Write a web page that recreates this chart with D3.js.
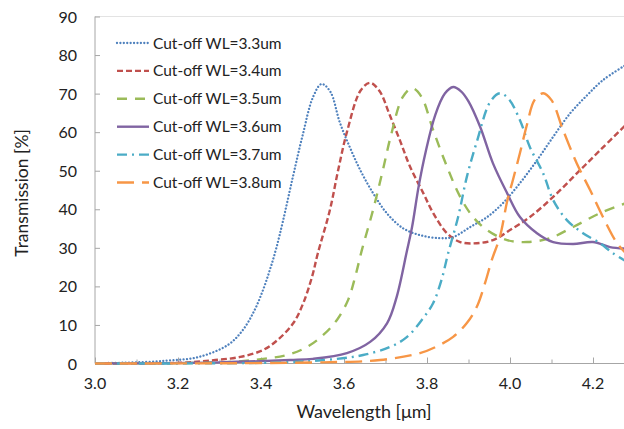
<!DOCTYPE html>
<html>
<head>
<meta charset="utf-8">
<script src="https://cdn.jsdelivr.net/npm/d3@7"></script>
<style>
  body { margin: 0; background: #fff; }
  svg { display: block; font-family: Lato, "Open Sans", sans-serif; }
</style>
</head>
<body>
<div id="chart"></div>
<script>
// series data: wavelength [um] / transmission [%]
const wl33 = [3.00, 3.07, 3.17, 3.25, 3.32, 3.355, 3.383, 3.405, 3.422, 3.437, 3.453, 3.477, 3.501, 3.525, 3.546, 3.567, 3.59, 3.614, 3.639, 3.67, 3.703, 3.742, 3.783, 3.831, 3.863, 3.904, 3.945, 3.983, 4.024, 4.065, 4.104, 4.145, 4.186, 4.224, 4.28];
const t33  = [0.1, 0.2, 0.7, 1.7, 4.8, 8.5, 13.5, 19.1, 24.5, 30, 37, 48.5, 59.5, 69, 72.5, 70.5, 62.5, 56.1, 50.2, 44.2, 39, 35.1, 33.3, 32.5, 32.8, 35.4, 38, 41.6, 46.8, 52.7, 58.8, 64.9, 69.6, 73.5, 77.5];

const wl34 = [3.00, 3.21, 3.29, 3.35, 3.405, 3.44, 3.478, 3.502, 3.523, 3.537, 3.566, 3.586, 3.607, 3.64, 3.663, 3.686, 3.71, 3.735, 3.759, 3.791, 3.815, 3.848, 3.88, 3.92, 3.959, 4.0, 4.048, 4.104, 4.161, 4.217, 4.28];
const t34  = [0, 0.2, 0.9, 1.7, 3.5, 6.1, 10.5, 15.7, 22.5, 28.6, 39.8, 50.2, 60, 70.8, 72.8, 70.6, 64.5, 57.8, 51.1, 44.2, 39, 33.8, 31.5, 31.2, 32, 34.6, 38, 43.2, 49.3, 55.3, 62];

const wl35 = [3.00, 3.325, 3.405, 3.463, 3.511, 3.55, 3.583, 3.61, 3.627, 3.643, 3.67, 3.692, 3.714, 3.741, 3.764, 3.786, 3.815, 3.848, 3.88, 3.911, 3.945, 3.993, 4.041, 4.096, 4.152, 4.217, 4.28];
const t35  = [0, 0.4, 1.2, 2.2, 4.3, 7.4, 11.3, 16.5, 22.5, 29.4, 39.8, 49.4, 59.5, 69, 71.4, 69.3, 60.5, 51.1, 43.2, 38, 34.6, 32, 31.5, 32.5, 35.4, 39, 41.6];

const wl36 = [3.00, 3.30, 3.47, 3.525, 3.607, 3.663, 3.704, 3.727, 3.752, 3.764, 3.78, 3.797, 3.82, 3.843, 3.863, 3.882, 3.9, 3.928, 3.959, 3.993, 4.024, 4.065, 4.104, 4.152, 4.2, 4.241, 4.28];
const t36  = [0, 0.3, 0.9, 1.2, 2.7, 5.6, 10.5, 17.3, 29.4, 35.4, 46, 55, 64.5, 70, 71.7, 70.6, 68, 61.4, 51.9, 44.2, 38, 33.8, 31.5, 31, 31.5, 30.2, 29.8];

const wl37 = [3.00, 3.45, 3.583, 3.646, 3.711, 3.752, 3.791, 3.815, 3.835, 3.851, 3.875, 3.896, 3.92, 3.953, 3.976, 3.997, 4.024, 4.048, 4.08, 4.104, 4.137, 4.176, 4.217, 4.248, 4.28];
const t37  = [0, 0.3, 1.2, 2.2, 4.3, 6.9, 11.8, 15.7, 21.7, 28.6, 38, 48.4, 57.5, 68, 70.1, 68.6, 63.1, 56.1, 49.3, 42.4, 37.2, 33.8, 31.2, 28.6, 26.5];

const wl38 = [3.00, 3.55, 3.687, 3.783, 3.823, 3.863, 3.896, 3.92, 3.94, 3.956, 3.976, 3.993, 4.007, 4.024, 4.041, 4.059, 4.08, 4.1, 4.128, 4.161, 4.193, 4.224, 4.258, 4.28];
const t38  = [0, 0.3, 0.9, 2.7, 4.4, 6.9, 10.5, 14.7, 20.9, 26.8, 33, 42, 47.6, 54.6, 62, 68.3, 70.1, 68.3, 60.5, 51.9, 45, 38, 31.2, 28.5];

const seriesNames = ["Cut-off WL=3.3um", "Cut-off WL=3.4um", "Cut-off WL=3.5um", "Cut-off WL=3.6um", "Cut-off WL=3.7um", "Cut-off WL=3.8um"];
const xTicks = [3.0, 3.2, 3.4, 3.6, 3.8, 4.0, 4.2];
const xMinorTicks = [3.1, 3.3, 3.5, 3.7, 3.9, 4.1, 4.3];
const yTicks = [0, 10, 20, 30, 40, 50, 60, 70, 80, 90];

const series = [
    { name: seriesNames[0], wl: wl33, t: t33, color: "#4f81bd", dash: "0.01,3.4", cap: "round", w: 2.3 },
    { name: seriesNames[1], wl: wl34, t: t34, color: "#c0504d", dash: "6,3", cap: "butt", w: 2.4 },
    { name: seriesNames[2], wl: wl35, t: t35, color: "#9bbb59", dash: "10,8", cap: "butt", w: 2.4 },
    { name: seriesNames[3], wl: wl36, t: t36, color: "#8064a2", dash: null, cap: "butt", w: 2.4 },
    { name: seriesNames[4], wl: wl37, t: t37, color: "#4bacc6", dash: "10,5,2,5", cap: "butt", w: 2.4 },
    { name: seriesNames[5], wl: wl38, t: t38, color: "#f79646", dash: "17,8", cap: "butt", w: 2.4 }
];

const W = 624, H = 429;
const plotLeft = 95, plotTop = 16.5, plotBottom = 363.5;

const svg = d3.select("#chart").append("svg")
    .attr("width", W)
    .attr("height", H);

const x = d3.scaleLinear().domain([3.0, 4.3]).range([plotLeft, plotLeft + 1.3 * 415]);
const y = d3.scaleLinear().domain([0, 90]).range([plotBottom, plotTop]);

const axisColor = "#a6a6a6";

// faint top border of the plot area
svg.append("line")
    .attr("x1", plotLeft).attr("x2", W)
    .attr("y1", plotTop).attr("y2", plotTop)
    .attr("stroke", "#e3e3e3");

// Y axis, ticks pointing inside
const yAxis = svg.append("g")
    .attr("transform", `translate(${plotLeft},0)`)
    .call(d3.axisRight(y).tickValues(yTicks).tickSize(5).tickFormat(""));
yAxis.select(".domain").attr("stroke", axisColor).attr("d", `M0,${plotTop}V${plotBottom}`);
yAxis.selectAll(".tick line").attr("stroke", axisColor);

svg.append("g").selectAll("text")
    .data(yTicks)
    .enter().append("text")
    .attr("x", 77)
    .attr("y", d => y(d) + 6)
    .attr("text-anchor", "end")
    .attr("font-size", 16)
    .attr("fill", "#222")
    .text(d => d);

// X axis, major + minor ticks pointing up
const xAxis = svg.append("g")
    .attr("transform", `translate(0,${plotBottom})`)
    .call(d3.axisTop(x).tickValues(xTicks).tickSize(6).tickFormat(""));
xAxis.select(".domain").attr("stroke", axisColor).attr("d", `M${plotLeft},0H${W}`);
xAxis.selectAll(".tick line").attr("stroke", axisColor);

svg.append("g")
    .attr("transform", `translate(0,${plotBottom})`)
    .call(d3.axisTop(x).tickValues(xMinorTicks).tickSize(4).tickFormat(""))
    .call(g => g.select(".domain").remove())
    .selectAll(".tick line").attr("stroke", axisColor);

svg.append("g").selectAll("text")
    .data(xTicks)
    .enter().append("text")
    .attr("x", d => x(d))
    .attr("y", 389)
    .attr("text-anchor", "middle")
    .attr("font-size", 16)
    .attr("fill", "#222")
    .text(d => d.toFixed(1));

// axis titles
svg.append("text")
    .attr("x", 364)
    .attr("y", 418)
    .attr("text-anchor", "middle")
    .attr("font-size", 18)
    .attr("fill", "#222")
    .text("Wavelength [\u03bcm]");

svg.append("text")
    .attr("transform", "translate(28,193) rotate(-90)")
    .attr("text-anchor", "middle")
    .attr("font-size", 17.5)
    .attr("fill", "#222")
    .text("Transmission [%]");

// clip curves to the plot area
svg.append("defs").append("clipPath")
    .attr("id", "plotclip")
    .append("rect")
    .attr("x", plotLeft).attr("y", plotTop - 5)
    .attr("width", W - plotLeft).attr("height", plotBottom - plotTop + 8);

const line = d3.line()
    .x(d => x(d[0]))
    .y(d => y(d[1]))
    .curve(d3.curveCatmullRom.alpha(0.5));

const layer = svg.append("g").attr("clip-path", "url(#plotclip)");

layer.selectAll("path")
    .data(series)
    .enter().append("path")
    .attr("fill", "none")
    .attr("stroke", d => d.color)
    .attr("stroke-width", d => d.w)
    .attr("stroke-linecap", d => d.cap)
    .attr("stroke-dasharray", d => d.dash)
    .attr("d", d => line(d.wl.map((v, i) => [v, d.t[i]])));

// legend
const legend = svg.append("g").selectAll("g")
    .data(series)
    .enter().append("g")
    .attr("transform", (d, i) => `translate(117,${43 + i * 27.9})`);

legend.append("line")
    .attr("x1", 0).attr("x2", 32)
    .attr("stroke", d => d.color)
    .attr("stroke-width", d => d.w)
    .attr("stroke-linecap", d => d.cap)
    .attr("stroke-dasharray", d => d.dash);

legend.append("text")
    .attr("x", 36)
    .attr("y", 5.5)
    .attr("font-size", 15.5)
    .attr("fill", "#222")
    .text(d => d.name);
</script>
</body>
</html>
